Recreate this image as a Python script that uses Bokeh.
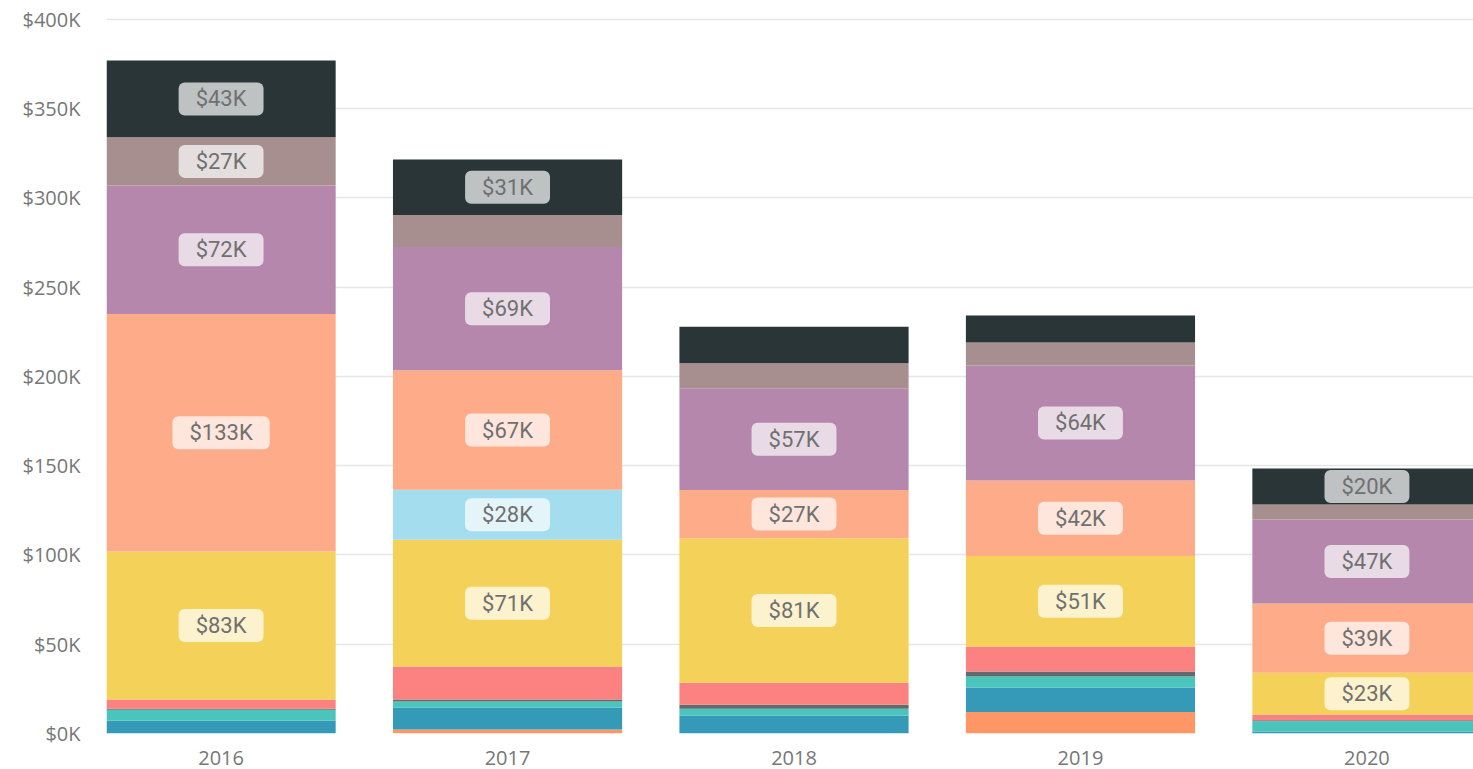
from bokeh.plotting import figure
from bokeh.models import ColumnDataSource, Label, Range1d, FixedTicker
from bokeh.embed import file_html
from bokeh.resources import INLINE

years = ["2016", "2017", "2018", "2019", "2020"]

# values in $K, stacked bottom -> top
s_orange = [0.0, 2.2, 0.0, 12.0, 0.0]
s_blue = [7.3, 12.3, 10.0, 13.8, 1.1]
s_teal = [6.0, 3.4, 3.9, 6.2, 5.8]
s_gray = [0.5, 1.1, 2.2, 2.8, 0.5]
s_coral = [5.2, 18.5, 12.3, 14.0, 3.2]
s_yellow = [83.0, 71.0, 81.0, 50.6, 23.4]
s_lightblue = [0.0, 28.0, 0.0, 0.0, 0.0]
s_salmon = [133.0, 67.0, 27.0, 42.3, 38.8]
s_purple = [72.0, 69.0, 57.0, 64.5, 47.1]
s_mauve = [27.0, 18.0, 14.0, 12.8, 8.4]
s_dark = [43.0, 31.0, 20.4, 15.2, 20.2]

# which segments carry a data label
show_yellow = [True, True, True, True, True]
show_lightblue = [False, True, False, False, False]
show_salmon = [True, True, True, True, True]
show_purple = [True, True, True, True, True]
show_mauve = [True, False, False, False, False]
show_dark = [True, True, False, False, True]

y_ticks = [0, 50, 100, 150, 200, 250, 300, 350, 400]
y_tick_labels = ["$0K", "$50K", "$100K", "$150K", "$200K", "$250K", "$300K", "$350K", "$400K"]

series = [
    ("orange", s_orange, "#FE9666", None),
    ("blue", s_blue, "#3599B8", None),
    ("teal", s_teal, "#4AC5BB", None),
    ("gray", s_gray, "#5F6B6D", None),
    ("coral", s_coral, "#FB8281", None),
    ("yellow", s_yellow, "#F4D25A", show_yellow),
    ("lightblue", s_lightblue, "#A4DDEE", show_lightblue),
    ("salmon", s_salmon, "#FDAB89", show_salmon),
    ("purple", s_purple, "#B687AC", show_purple),
    ("mauve", s_mauve, "#A78F8F", show_mauve),
    ("dark", s_dark, "#293537", show_dark),
]

xs = list(range(len(years)))
data = {"x": xs}
for name, vals, _, _ in series:
    data[name] = vals
source = ColumnDataSource(data)

p = figure(width=1473, height=769, output_backend="svg", toolbar_location=None,
           x_range=Range1d(-0.4, 4.372), y_range=Range1d(0, 401.1),
           min_border_left=106, min_border_top=17, min_border_bottom=36, min_border_right=0)
p.outline_line_color = None
p.background_fill_color = "white"

p.xgrid.visible = False
p.ygrid.grid_line_color = "#e6e6e6"
p.ygrid.grid_line_width = 1.5

p.vbar_stack([s[0] for s in series], x="x", width=0.8, source=source,
             color=[s[2] for s in series], line_color=None)

# labels
base = [0.0] * len(years)
for name, vals, _, show in series:
    for i, v in enumerate(vals):
        if show is not None and show[i]:
            p.add_layout(Label(x=xs[i], y=base[i] + v / 2, text="$%dK" % round(v),
                               text_align="center", text_baseline="middle",
                               text_font="Roboto", text_font_size="22px", text_color="#707070",
                               background_fill_color="white", background_fill_alpha=0.7,
                               border_radius=6, padding=(17, 4)))
        base[i] += v

p.yaxis.ticker = FixedTicker(ticks=y_ticks)
p.yaxis.major_label_overrides = {t: l for t, l in zip(y_ticks, y_tick_labels)}
p.xaxis.ticker = FixedTicker(ticks=xs)
p.xaxis.major_label_overrides = {i: y for i, y in zip(xs, years)}

for ax in (p.xaxis[0], p.yaxis[0]):
    ax.axis_line_color = None
    ax.major_tick_line_color = None
    ax.minor_tick_line_color = None
    ax.major_label_text_font = "Open Sans"
    ax.major_label_text_font_size = "20px"
    ax.major_label_text_color = "#777777"
p.yaxis.major_label_standoff = 20
p.xaxis.major_label_standoff = 11

open("out.html", "w").write(file_html(p, INLINE))
